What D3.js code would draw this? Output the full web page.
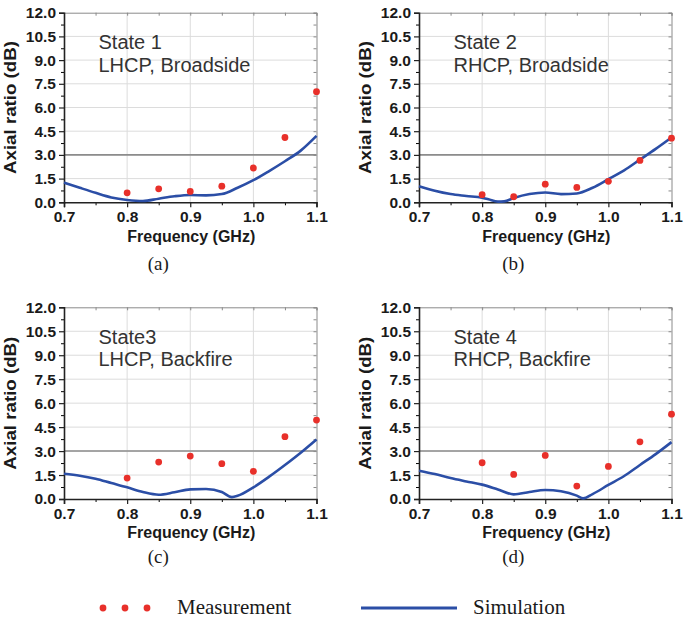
<!DOCTYPE html>
<html><head><meta charset="utf-8">
<script src="https://cdn.jsdelivr.net/npm/d3@7"></script>
<style>
body{margin:0;background:#fff;}
svg{display:block;}
</style></head>
<body>
<svg id="chart" width="685" height="618"></svg>
<script>
// ---- data ----
const freqTicks = [0.7, 0.8, 0.9, 1.0, 1.1];
const arTicks = [0, 1.5, 3, 4.5, 6, 7.5, 9, 10.5, 12];
const thresholdDB = 3.0;

const measFreq = [0.8, 0.85, 0.9, 0.95, 1.0, 1.05, 1.1];
const measState1 = [0.6, 0.85, 0.69, 1.02, 2.17, 4.1, 7.0];
const measState2 = [0.48, 0.35, 1.15, 0.94, 1.33, 2.65, 4.06];
const measState3 = [1.31, 2.31, 2.69, 2.21, 1.73, 3.9, 4.94];
const measState4 = [2.27, 1.54, 2.73, 0.81, 2.04, 3.58, 5.31];

const simFreq1 = [0.7,0.725,0.75,0.775,0.8,0.825,0.85,0.875,0.9,0.925,0.95,0.975,1.0,1.025,1.05,1.075,1.1];
const simState1 = [1.25,0.92,0.6,0.31,0.15,0.08,0.23,0.38,0.46,0.44,0.52,0.92,1.4,1.98,2.6,3.27,4.2];
const simFreq2 = [0.7,0.725,0.75,0.775,0.8,0.81,0.825,0.835,0.85,0.875,0.9,0.925,0.95,0.975,1.0,1.025,1.05,1.075,1.1];
const simState2 = [1.02,0.73,0.52,0.4,0.29,0.19,0.04,0.06,0.27,0.52,0.62,0.52,0.56,0.92,1.46,2.02,2.7,3.38,4.1];
const simFreq3 = [0.7,0.725,0.75,0.775,0.8,0.825,0.85,0.875,0.9,0.925,0.95,0.966,0.975,1.0,1.025,1.05,1.075,1.1];
const simState3 = [1.58,1.46,1.27,1.0,0.73,0.44,0.27,0.42,0.6,0.63,0.44,0.12,0.2,0.73,1.4,2.13,2.9,3.73];
const simFreq4 = [0.7,0.725,0.75,0.775,0.8,0.825,0.85,0.875,0.9,0.925,0.95,0.96,0.975,1.0,1.025,1.05,1.075,1.1];
const simState4 = [1.77,1.56,1.31,1.1,0.9,0.6,0.29,0.44,0.56,0.48,0.21,0.04,0.31,0.88,1.44,2.13,2.81,3.56];

const panelNames = ["(a)", "(b)", "(c)", "(d)"];
const stateLabels = ["State 1", "State 2", "State3", "State 4"];
const modeLabels = ["LHCP, Broadside", "RHCP, Broadside", "LHCP, Backfire", "RHCP, Backfire"];
const legendLabels = ["Measurement", "Simulation"];

const panels = [
  {meas: measState1, simF: simFreq1, sim: simState1, left: 64, top: 12.7, h: 189.6},
  {meas: measState2, simF: simFreq2, sim: simState2, left: 419, top: 12.7, h: 189.6},
  {meas: measState3, simF: simFreq3, sim: simState3, left: 64, top: 307.3, h: 191.7},
  {meas: measState4, simF: simFreq4, sim: simState4, left: 419, top: 307.3, h: 191.7}
];

const W = 252.5;
const sans = "'Liberation Sans', Arial, sans-serif";
const serif = "'Liberation Serif', 'Times New Roman', serif";
const blue = "#2b4ea6", red = "#e8302a";

const svg = d3.select("#chart");

panels.forEach((p, i) => {
  const g = svg.append("g").attr("transform", `translate(${p.left},${p.top})`);
  const x = d3.scaleLinear().domain([0.7, 1.1]).range([0, W]);
  const y = d3.scaleLinear().domain([0, 12]).range([p.h, 0]);

  // grid
  g.append("g").selectAll("line").data(freqTicks.slice(1, -1)).join("line")
    .attr("x1", d => x(d)).attr("x2", d => x(d)).attr("y1", 0).attr("y2", p.h)
    .attr("stroke", "#dcdcdc").attr("stroke-width", 1);
  g.append("g").selectAll("line").data(arTicks.slice(1, -1)).join("line")
    .attr("x1", 0).attr("x2", W).attr("y1", d => y(d)).attr("y2", d => y(d))
    .attr("stroke", "#dcdcdc").attr("stroke-width", 1);

  // top & right frame with inward ticks
  const topAx = g.append("g").call(d3.axisTop(x).tickValues(d3.range(0.7, 1.1001, 0.05)).tickSize(-3).tickFormat(""));
  const rightAx = g.append("g").attr("transform", `translate(${W},0)`)
    .call(d3.axisRight(y).tickValues(d3.range(0, 12.01, 0.75)).tickSize(-3).tickFormat(""));
  [topAx, rightAx].forEach(a => { a.selectAll("path,line").attr("stroke", "#8a8a8a").attr("stroke-width", 1); });

  // threshold line
  g.append("line").attr("x1", 0).attr("x2", W)
    .attr("y1", y(thresholdDB)).attr("y2", y(thresholdDB))
    .attr("stroke", "#8c8c8c").attr("stroke-width", 1.6);

  // minor ticks
  g.append("g").call(d3.axisLeft(y).tickValues(d3.range(0.75, 12, 1.5)).tickSize(3).tickFormat(""))
    .selectAll("path").remove();
  g.append("g").attr("transform", `translate(0,${p.h})`)
    .call(d3.axisBottom(x).tickValues(d3.range(0.75, 1.1, 0.1)).tickSize(3).tickFormat(""))
    .selectAll("path").remove();

  // axes
  const yAx = g.append("g").call(d3.axisLeft(y).tickValues(arTicks).tickSize(5).tickPadding(3).tickFormat(d3.format(".1f")));
  const xAx = g.append("g").attr("transform", `translate(0,${p.h})`)
    .call(d3.axisBottom(x).tickValues(freqTicks).tickSize(5).tickPadding(4).tickFormat(d3.format(".1f")));
  [yAx, xAx].forEach(a => {
    a.selectAll("path").attr("stroke", "#222").attr("stroke-width", 1.6);
    a.selectAll("line").attr("stroke", "#222").attr("stroke-width", 1.2);
    a.selectAll("text").attr("font-family", sans).attr("font-weight", "bold")
      .attr("font-size", "15.5px").attr("fill", "#1a1a1a");
  });
  g.selectAll("g").filter(function(){ return true; });
  g.selectAll(".tick line").attr("stroke", function(){ return d3.select(this).attr("stroke") || "#222"; });

  // simulation line
  const line = d3.line().x(d => x(d[0])).y(d => y(d[1])).curve(d3.curveMonotoneX);
  g.append("path").datum(d3.zip(p.simF, p.sim)).attr("d", line)
    .attr("fill", "none").attr("stroke", blue).attr("stroke-width", 2.6)
    .attr("stroke-linejoin", "round");

  // measurement dots
  g.append("g").selectAll("circle").data(d3.zip(measFreq, p.meas)).join("circle")
    .attr("cx", d => x(d[0])).attr("cy", d => y(d[1])).attr("r", 3.4).attr("fill", red);

  // annotation
  const ann = g.append("text").attr("font-family", sans).attr("font-size", "20px").attr("fill", "#333");
  ann.append("tspan").attr("x", 34.5).attr("y", 36.5).text(stateLabels[i]);
  ann.append("tspan").attr("x", 34.5).attr("y", 59).text(modeLabels[i]);

  // axis titles
  g.append("text").attr("x", W / 2 + 1).attr("y", p.h + 39.5).attr("text-anchor", "middle")
    .attr("font-family", sans).attr("font-weight", "bold").attr("font-size", "16px").attr("fill", "#1a1a1a")
    .text("Frequency (GHz)");
  g.append("text").attr("transform", `translate(-48,${p.h / 2}) rotate(-90)`).attr("text-anchor", "middle")
    .attr("font-family", sans).attr("font-weight", "bold").attr("font-size", "16px").attr("fill", "#1a1a1a")
    .attr("textLength", 133).attr("lengthAdjust", "spacingAndGlyphs")
    .text("Axial ratio (dB)");

  // panel label
  g.append("text").attr("x", (W - 64) / 2).attr("y", p.h + (i < 2 ? 67.5 : 64))
    .attr("text-anchor", "middle").attr("font-family", serif).attr("font-size", "19px").attr("fill", "#1a1a1a")
    .text(panelNames[i]);
});

// legend
const lg = svg.append("g");
lg.selectAll("circle").data([103, 125, 147]).join("circle")
  .attr("cx", d => d).attr("cy", 608).attr("r", 3.4).attr("fill", red);
lg.append("text").attr("x", 177).attr("y", 614).attr("font-family", serif).attr("font-size", "21px")
  .attr("fill", "#1a1a1a").text(legendLabels[0]);
lg.append("line").attr("x1", 361).attr("x2", 457).attr("y1", 608).attr("y2", 608)
  .attr("stroke", blue).attr("stroke-width", 3);
lg.append("text").attr("x", 473).attr("y", 614).attr("font-family", serif).attr("font-size", "21px")
  .attr("fill", "#1a1a1a").text(legendLabels[1]);
</script>
</body></html>
